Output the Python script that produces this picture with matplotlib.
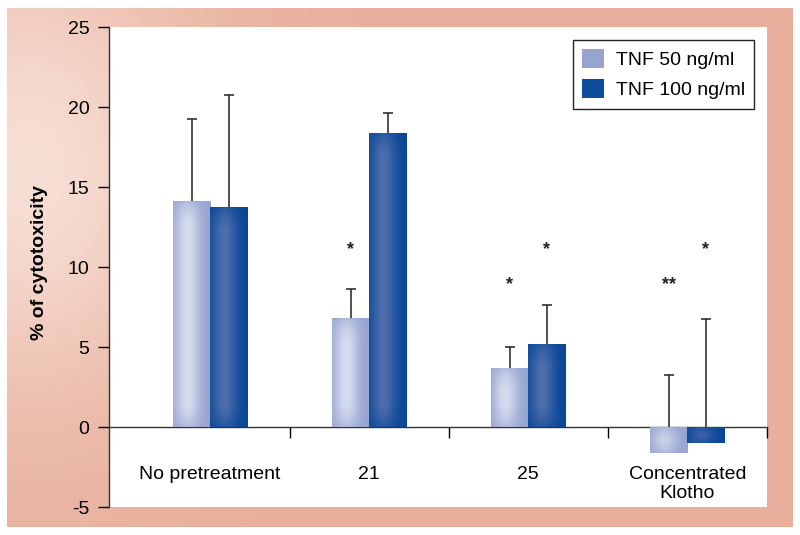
import numpy as np
import matplotlib
matplotlib.use("Agg")
import matplotlib.pyplot as plt
from matplotlib.patches import Patch

plt.rcParams["font.family"] = ["Liberation Sans", "DejaVu Sans"]

categories = ["No pretreatment", "21", "25", "Concentrated\nKlotho"]
series_names = ["TNF 50 ng/ml", "TNF 100 ng/ml"]
tnf50 = [14.1, 6.8, 3.7, -1.6]
tnf100 = [13.75, 18.4, 5.2, -1.0]
tnf50_err = [5.15, 1.8, 1.3, 4.85]
tnf100_err = [7.0, 1.2, 2.4, 7.75]
# significance marks: (category index, series index, height, text)
stars = [(1, 0, 11.1, "*"), (2, 0, 8.9, "*"), (2, 1, 11.1, "*"),
         (3, 0, 8.9, "**"), (3, 1, 11.1, "*")]

light_edge = np.array([150, 163, 208]) / 255
light_mid = np.array([214, 220, 239]) / 255
dark_edge = np.array([8, 70, 150]) / 255
dark_mid = np.array([78, 110, 172]) / 255
legend_cols = ["#98a4d0", "#0d4c9c"]

fig = plt.figure(figsize=(8, 5.35), dpi=100)

# salmon frame with a soft light glow at the upper left
bg = fig.add_axes([0, 0, 1, 1], zorder=-5)
bg.set_xlim(0, 800)
bg.set_ylim(535, 0)
bg.axis("off")
yy, xx = np.mgrid[8:527, 7:793]
t = np.exp(-(((xx - 30) / 170.0) ** 2 + ((yy - 170) / 230.0) ** 2))
salmon = np.array([232, 176, 156]) / 255
glow = np.array([247, 222, 212]) / 255
img = salmon[None, None, :] * (1 - t[..., None]) + glow[None, None, :] * t[..., None]
bg.imshow(img, extent=(7, 793, 527, 8), aspect="auto", interpolation="bilinear")

ax = fig.add_axes([109 / 800, 28 / 535, 658 / 800, 480 / 535])
ax.set_facecolor("white")

x = np.arange(len(categories))
w = 0.233


def shade(bars, edge, mid):
    for b in bars:
        x0, y0 = b.get_x(), b.get_y()
        bw, bh = b.get_width(), b.get_height()
        ylo, yhi = min(y0, y0 + bh), max(y0, y0 + bh)
        hpx = max(abs(bh) * 16, 2)
        u = np.linspace(0, 1, 60)
        v = np.linspace(0, hpx, max(int(hpx), 2))
        hx = np.exp(-((u - 0.38) / 0.33) ** 2)
        vy = np.clip(np.minimum(v, hpx - v) / 22.0, 0, 1) ** 0.6
        k = hx[None, :] * (0.35 + 0.65 * vy[:, None])
        im = edge[None, None, :] * (1 - k[..., None]) + mid[None, None, :] * k[..., None]
        art = ax.imshow(im, extent=(x0, x0 + bw, ylo, yhi), origin="lower",
                        aspect="auto", interpolation="bilinear", zorder=3)
        art.set_clip_path(b)


b1 = ax.bar(x - w / 2, tnf50, w, color=legend_cols[0], zorder=2)
b2 = ax.bar(x + w / 2, tnf100, w, color=legend_cols[1], zorder=2)
shade(b1, light_edge, light_mid)
shade(b2, dark_edge, dark_mid)

for xs, vals, errs in [(x - w / 2, tnf50, tnf50_err), (x + w / 2, tnf100, tnf100_err)]:
    eb = ax.errorbar(xs, vals, yerr=[np.zeros(4), errs], fmt="none",
                     ecolor="#222222", elinewidth=1.1, capsize=3.5,
                     capthick=1.1, zorder=1)
    # keep only the upper caps
    eb[1][0].set_visible(False)

for ci, si, h, s in stars:
    xs = x[ci] - w / 2 if si == 0 else x[ci] + w / 2
    ax.text(xs, h, s, ha="center", va="center", fontsize=13,
            fontweight="bold", color="#222222")

ax.set_ylim(-5, 25)
ax.set_xlim(-0.635, 3.5)
ax.set_yticks(range(-5, 26, 5))
ax.set_yticklabels([str(v) for v in range(-5, 26, 5)])
ax.tick_params(axis="y", direction="out", length=8, width=1, pad=6, labelsize=14)

ax.set_xticks(x)
ax.set_xticklabels(categories, multialignment="center")
ax.set_xticks(list(x + 0.5), minor=True)
ax.tick_params(axis="x", which="major", length=0, pad=28, labelsize=14)
ax.tick_params(axis="x", which="minor", direction="out", length=8, width=1)
for lbl in ax.get_xticklabels():
    lbl.set_linespacing(1.45)

ax.spines["top"].set_visible(False)
ax.spines["right"].set_visible(False)
ax.spines["bottom"].set_position(("data", 0))
for s in ["left", "bottom"]:
    ax.spines[s].set_color("#333333")
    ax.spines[s].set_linewidth(1)

fig.text(40 / 800, 1 - 263 / 535, "% of cytotoxicity", rotation=90,
         ha="center", va="center", fontsize=14, fontweight="bold")

handles = [Patch(facecolor=c, edgecolor="none") for c in legend_cols]
leg = ax.legend(handles, series_names, loc="upper right", fontsize=14,
                frameon=True, fancybox=False, framealpha=1, edgecolor="#222222",
                handlelength=1.1, handleheight=1.1, handletextpad=0.6,
                labelspacing=0.5, borderaxespad=0.65, borderpad=0.5)
leg.get_frame().set_linewidth(1)

fig.savefig("out.png", dpi=100)
